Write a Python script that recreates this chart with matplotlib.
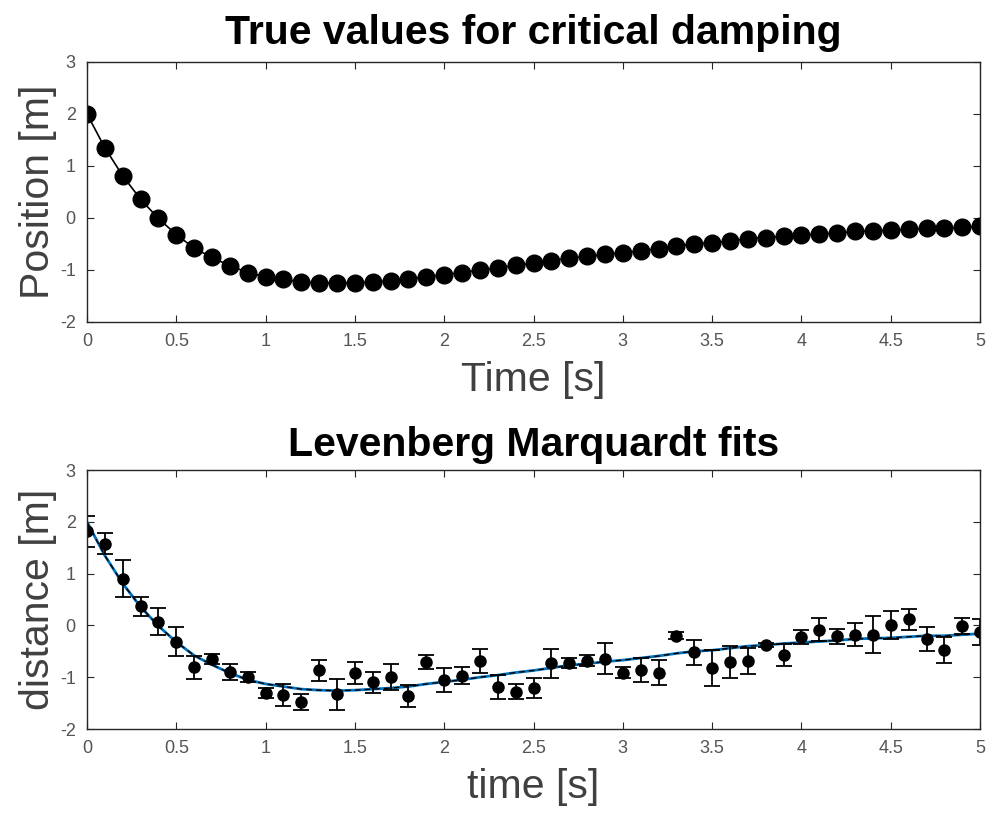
import numpy as np
import matplotlib
matplotlib.use("Agg")
import matplotlib.pyplot as plt

# sample times
t = [round(0.1 * i, 1) for i in range(51)]

# true position for critical damping
pos_true = [2.00, 1.35, 0.81, 0.36, -0.01, -0.32, -0.58, -0.76, -0.92, -1.05,
            -1.13, -1.18, -1.23, -1.25, -1.26, -1.25, -1.23, -1.21, -1.18, -1.13,
            -1.09, -1.05, -1.00, -0.96, -0.91, -0.87, -0.82, -0.77, -0.74, -0.70,
            -0.67, -0.63, -0.59, -0.54, -0.50, -0.48, -0.44, -0.40, -0.38, -0.35,
            -0.33, -0.31, -0.29, -0.26, -0.25, -0.24, -0.22, -0.20, -0.20, -0.18,
            -0.16]

# noisy measurements and their error bars (bottom panel)
dist_meas = [1.82, 1.58, 0.90, 0.37, 0.07, -0.32, -0.81, -0.65, -0.90, -1.00,
             -1.31, -1.34, -1.48, -0.87, -1.33, -0.92, -1.10, -1.00, -1.37, -0.71,
             -1.06, -0.97, -0.68, -1.19, -1.28, -1.21, -0.73, -0.72, -0.68, -0.64,
             -0.91, -0.86, -0.91, -0.20, -0.52, -0.82, -0.70, -0.68, -0.37, -0.57,
             -0.22, -0.08, -0.21, -0.18, -0.18, 0.01, 0.12, -0.26, -0.48, -0.01,
             -0.12]
dist_err = [0.30, 0.21, 0.36, 0.18, 0.26, 0.28, 0.22, 0.10, 0.15, 0.10,
            0.10, 0.21, 0.15, 0.20, 0.30, 0.21, 0.21, 0.25, 0.21, 0.14,
            0.23, 0.17, 0.23, 0.23, 0.15, 0.20, 0.28, 0.10, 0.11, 0.30,
            0.10, 0.24, 0.25, 0.07, 0.24, 0.35, 0.31, 0.25, 0.04, 0.22,
            0.14, 0.22, 0.14, 0.22, 0.36, 0.27, 0.20, 0.23, 0.25, 0.16,
            0.25]

# Levenberg Marquardt fit (lies on top of the true curve)
dist_fit = pos_true

xticks = np.arange(0, 5.01, 0.5)
xticklabels = ['0', '0.5', '1', '1.5', '2', '2.5', '3', '3.5', '4', '4.5', '5']
yticks = [-2, -1, 0, 1, 2, 3]

plt.rcParams['font.family'] = ['Liberation Sans', 'DejaVu Sans']
plt.rcParams['axes.unicode_minus'] = False

fig = plt.figure(figsize=(9.88, 8.18), dpi=100)
ax1 = fig.add_axes([0.088, 0.6064, 0.904, 0.318])
ax2 = fig.add_axes([0.088, 0.1088, 0.904, 0.3166])

label_col = '#404040'
tick_col = '#555555'


def style(ax):
    ax.set_xlim(0, 5)
    ax.set_ylim(-2, 3)
    ax.set_xticks(xticks)
    ax.set_xticklabels(xticklabels)
    ax.set_yticks(yticks)
    ax.tick_params(direction='in', top=True, right=True, length=5, width=0.8,
                   labelsize=13, labelcolor=tick_col, color='#262626', pad=8)
    for s in ax.spines.values():
        s.set_color('#262626')
        s.set_linewidth(1.0)


# top panel
ax1.plot(t, pos_true, '-', color='black', linewidth=1.2,
         marker='o', markersize=12, markerfacecolor='black', markeredgecolor='black')
style(ax1)
ax1.set_title('True values for critical damping', fontsize=29.5, fontweight='bold', pad=13)
ax1.set_xlabel('Time [s]', fontsize=29.5, color=label_col, labelpad=8)
ax1.set_ylabel('Position [m]', fontsize=29.5, color=label_col, labelpad=2)

# bottom panel
ax2.plot(t, dist_fit, '-', color='#0072bd', linewidth=2.0)
ax2.plot(t, pos_true, '--', color='black', linewidth=1.0, dashes=(4, 3))
ax2.errorbar(t, dist_meas, yerr=dist_err, fmt='o', color='black', markersize=8,
             ecolor='black', elinewidth=1.3, capsize=5.5, capthick=1.3)
style(ax2)
ax2.set_title('Levenberg Marquardt fits', fontsize=29.5, fontweight='bold', pad=10)
ax2.set_xlabel('time [s]', fontsize=29.5, color=label_col, labelpad=8)
ax2.set_ylabel('distance [m]', fontsize=29.5, color=label_col, labelpad=2)

fig.savefig('out.png', dpi=100)
